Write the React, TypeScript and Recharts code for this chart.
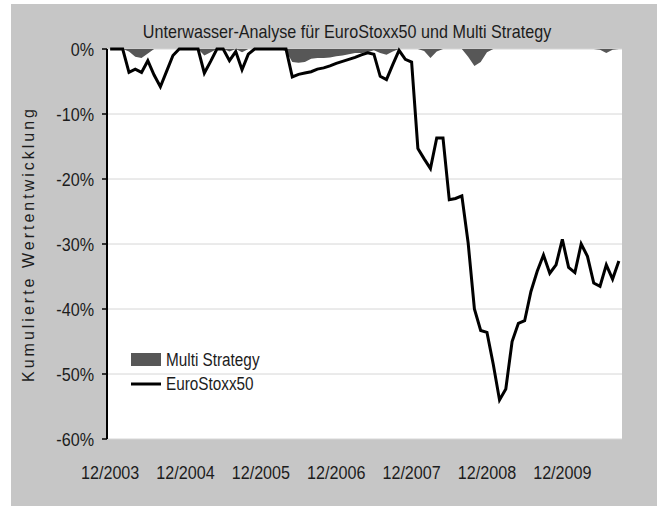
import React from 'react';
import { ComposedChart, Line, Area, XAxis, YAxis, CartesianGrid, Legend } from 'recharts';

// Monthly data, first point 12/2003, last point 9/2010 (drawdown in %)
const tickLabels = ['12/2003', '12/2004', '12/2005', '12/2006', '12/2007', '12/2008', '12/2009'];

const euroStoxx50 = [
  0, 0, 0, -3.6, -3.1, -3.6, -1.8, -4.0, -5.8, -3.4, -1.0, 0,
  0, 0, 0, -3.7, -1.9, 0, 0, -1.8, -0.4, -3.2, -0.8, 0,
  0, 0, 0, 0, 0, -4.3, -3.9, -3.7, -3.5, -3.1, -2.9, -2.6,
  -2.2, -1.9, -1.6, -1.3, -0.9, -0.6, -0.8, -4.2, -4.7, -2.4, -0.2, -1.6,
  -2.0, -15.3, -16.9, -18.4, -13.7, -13.7, -23.2, -23.0, -22.6, -29.8, -40.0, -43.3,
  -43.6, -48.5, -54.0, -52.3, -45.0, -42.2, -41.8, -37.3, -34.2, -31.7, -34.5, -33.2,
  -29.3, -33.6, -34.4, -30.0, -31.9, -36.0, -36.5, -33.2, -35.4, -32.6,
];

const multiStrategy = [
  0, 0, 0, -0.4, -1.2, -1.4, -0.7, 0, 0, 0, 0, 0,
  0, 0, 0, -1.0, -0.5, 0, 0, -0.4, 0, -0.5, 0, 0,
  0, 0, 0, 0, -0.3, -2.0, -2.1, -2.0, -1.5, -1.4, -1.4, -1.3,
  -1.1, -1.0, -0.8, -0.6, -0.6, -0.5, -0.2, -0.6, -0.9, -0.4, 0, 0,
  0, 0, -0.3, -1.4, -0.4, 0, 0, 0, 0, -1.2, -2.6, -2.0,
  -0.5, 0, 0, 0, 0, 0, 0, 0, 0, 0, 0, 0,
  0, 0, 0, 0, 0, 0, -0.1, -0.6, -0.1, 0,
];

const yTicks = [0, -10, -20, -30, -40, -50, -60];

const seriesNames = { ms: 'Multi Strategy', es: 'EuroStoxx50' };
const title = 'Unterwasser-Analyse für EuroStoxx50 und Multi Strategy';
const yTitle = 'Kumulierte Wertentwicklung';

const data = euroStoxx50.map((v, i) => ({ m: i, es: v, ms: multiStrategy[i] }));
const bottomTicks = tickLabels.map((_, k) => k * 12);
const topTicks = tickLabels.slice(1).map((_, k) => (k + 1) * 12 - 0.5);

const REGULAR = "'Liberation Sans', Arial, sans-serif";
const SQUEEZE = 0.85;
const FS = 19;
const TEXT = '#1c1c1c';
const AREA = '#575757';

const XTick = (props: any) => {
  const { x, y, payload } = props;
  return (
    <g transform={`translate(${x},${y})`}>
      <text
        transform={`scale(${SQUEEZE},1)`}
        textAnchor="middle"
        dy="0.71em"
        fontFamily={REGULAR}
        fontSize={FS}
        fill={TEXT}
      >
        {tickLabels[Math.round(payload.value / 12)]}
      </text>
    </g>
  );
};

const YTick = (props: any) => {
  const { x, y, payload } = props;
  return (
    <g transform={`translate(${x},${y})`}>
      <text
        transform={`scale(${SQUEEZE},1)`}
        textAnchor="end"
        dy="0.355em"
        fontFamily={REGULAR}
        fontSize={FS}
        fill={TEXT}
      >
        {`${payload.value}%`}
      </text>
    </g>
  );
};

const narrowSpan: React.CSSProperties = {
  display: 'inline-block',
  transform: `scaleX(${SQUEEZE})`,
  transformOrigin: 'left center',
  whiteSpace: 'nowrap',
};

const renderLegend = () => (
  <div style={{ fontFamily: REGULAR, fontSize: 18, color: TEXT, lineHeight: '24px' }}>
    <div style={{ display: 'flex', alignItems: 'center', height: 24 }}>
      <svg width={36} height={24} style={{ display: 'block' }}>
        <rect x={1} y={5} width={30} height={13} fill={AREA} />
      </svg>
      <span style={narrowSpan}>{seriesNames.ms}</span>
    </div>
    <div style={{ display: 'flex', alignItems: 'center', height: 24 }}>
      <svg width={36} height={24} style={{ display: 'block' }}>
        <line x1={1} x2={31} y1={12} y2={12} stroke="#000" strokeWidth={3} />
      </svg>
      <span style={narrowSpan}>{seriesNames.es}</span>
    </div>
  </div>
);

const YTitle = (props: any) => {
  const vb = props.viewBox || { y: 49, height: 390 };
  const cx = 28;
  const cy = vb.y + vb.height / 2;
  return (
    <text
      x={cx}
      y={cy}
      transform={`rotate(-90 ${cx} ${cy})`}
      textAnchor="middle"
      dominantBaseline="central"
      fontFamily={REGULAR}
      fontSize={16}
      letterSpacing={3}
      fill={TEXT}
    >
      {yTitle}
    </text>
  );
};

export default function App() {
  return (
    <div style={{ position: 'absolute', left: 0, top: 0, width: 665, height: 509, background: '#fff' }}>
      <div style={{ position: 'absolute', left: 11, top: 4, width: 646, height: 502, background: '#c6c6c6' }} />
      <div
        style={{
          position: 'absolute',
          left: 0,
          top: 21,
          width: 694,
          textAlign: 'center',
          fontFamily: REGULAR,
          fontSize: FS,
          lineHeight: '22px',
          color: TEXT,
          transform: `scaleX(${SQUEEZE})`,
          transformOrigin: '347px center',
          whiteSpace: 'nowrap',
        }}
      >
        {title}
      </div>
      <div style={{ position: 'absolute', left: 0, top: 0 }}>
        <ComposedChart
          width={665}
          height={509}
          data={data}
          margin={{ top: 49, right: 43, bottom: 30, left: 47 }}
        >
          <CartesianGrid horizontal vertical={false} stroke="#d6d6d6" fill="#ffffff" />
          <XAxis
            dataKey="m"
            type="number"
            domain={[-0.5, 81.5]}
            ticks={bottomTicks}
            interval={0}
            axisLine={false}
            tickLine={false}
            tickSize={0}
            tickMargin={26}
            height={40}
            tick={<XTick />}
          />
          <XAxis
            xAxisId="top"
            dataKey="m"
            type="number"
            orientation="top"
            domain={[-0.5, 81.5]}
            ticks={topTicks}
            interval={0}
            mirror
            height={0}
            tick={false}
            tickSize={6}
            tickLine={{ stroke: '#000', strokeWidth: 1.5 }}
            axisLine={{ stroke: '#000', strokeWidth: 2 }}
          />
          <YAxis
            type="number"
            domain={[-60, 0]}
            ticks={yTicks}
            interval={0}
            width={60}
            axisLine={{ stroke: '#000', strokeWidth: 2 }}
            tickLine={{ stroke: '#000', strokeWidth: 1.5 }}
            tickSize={5}
            tickMargin={8}
            tick={<YTick />}
            label={{ content: (p: any) => <YTitle {...p} /> }}
          />
          <Area
            dataKey="ms"
            name={seriesNames.ms}
            type="linear"
            baseValue={0}
            stroke="none"
            fill={AREA}
            fillOpacity={1}
            isAnimationActive={false}
          />
          <Line
            dataKey="es"
            name={seriesNames.es}
            type="linear"
            stroke="#000"
            strokeWidth={3}
            dot={false}
            activeDot={false}
            isAnimationActive={false}
          />
          <Legend
            layout="vertical"
            align="center"
            verticalAlign="middle"
            content={renderLegend}
            wrapperStyle={{ left: 130, top: 348, width: 170, height: 50 }}
          />
        </ComposedChart>
      </div>
    </div>
  );
}
